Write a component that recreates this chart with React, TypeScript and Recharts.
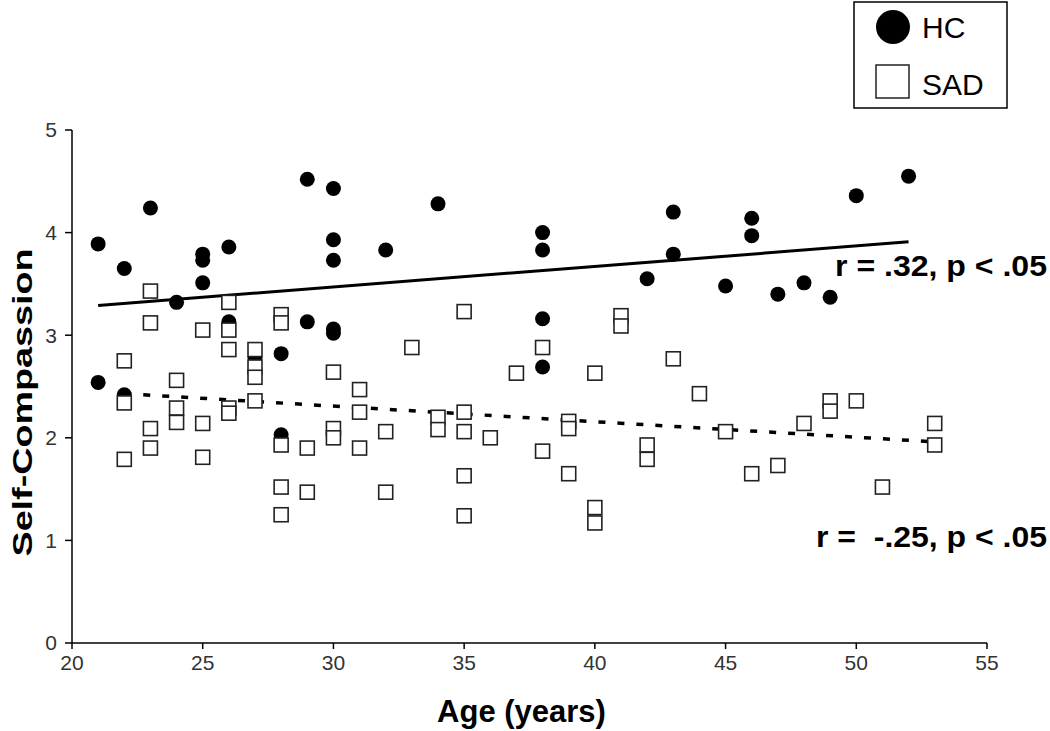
import React from 'react';
import { ScatterChart, Scatter, XAxis, YAxis, ReferenceLine, Legend, Label } from 'recharts';

// values
const hcAges = [21, 21, 22, 22, 23, 24, 25, 25, 25, 26, 26, 27, 28, 28, 29, 29, 30, 30, 30, 30, 30, 32, 34, 38, 38, 38, 38, 42, 43, 43, 45, 46, 46, 47, 48, 49, 50, 52];
const hcScores = [3.89, 2.54, 3.65, 2.42, 4.24, 3.32, 3.79, 3.73, 3.51, 3.86, 3.13, 2.78, 2.82, 2.03, 4.52, 3.13, 4.43, 3.93, 3.73, 3.06, 3.02, 3.83, 4.28, 4.0, 3.83, 3.16, 2.69, 3.55, 4.2, 3.79, 3.48, 4.14, 3.97, 3.4, 3.51, 3.37, 4.36, 4.55];

const sadAges = [22, 22, 22, 23, 23, 23, 23, 24, 24, 24, 25, 25, 25, 26, 26, 26, 26, 26, 27, 27, 27, 27, 28, 28, 28, 28, 28, 29, 29, 30, 30, 30, 31, 31, 31, 32, 32, 33, 34, 34, 35, 35, 35, 35, 35, 36, 37, 38, 38, 39, 39, 39, 40, 40, 40, 41, 41, 42, 42, 43, 44, 45, 46, 47, 48, 49, 49, 50, 51, 53, 53];
const sadScores = [2.75, 2.34, 1.79, 3.43, 3.12, 2.09, 1.9, 2.56, 2.29, 2.15, 3.05, 2.14, 1.81, 3.32, 3.05, 2.86, 2.29, 2.24, 2.86, 2.69, 2.59, 2.36, 3.2, 3.12, 1.93, 1.52, 1.25, 1.9, 1.47, 2.64, 2.09, 2.0, 2.47, 2.25, 1.9, 2.06, 1.47, 2.88, 2.2, 2.08, 3.23, 2.25, 2.06, 1.63, 1.24, 2.0, 2.63, 2.88, 1.87, 2.16, 2.09, 1.65, 2.63, 1.32, 1.17, 3.19, 3.09, 1.93, 1.79, 2.77, 2.43, 2.06, 1.65, 1.73, 2.14, 2.36, 2.26, 2.36, 1.52, 2.14, 1.93];

// fitted lines (end points)
const hcFitAges = [21, 52];
const hcFitScores = [3.29, 3.91];
const sadFitAges = [22, 53];
const sadFitScores = [2.43, 1.96];

const xTicks = [20, 25, 30, 35, 40, 45, 50, 55];
const yTicks = [0, 1, 2, 3, 4, 5];

const hcData = hcAges.map((age, i) => ({ age, score: hcScores[i] }));
const sadData = sadAges.map((age, i) => ({ age, score: sadScores[i] }));
const hcSegment = hcFitAges.map((x, i) => ({ x, y: hcFitScores[i] }));
const sadSegment = sadFitAges.map((x, i) => ({ x, y: sadFitScores[i] }));

const FONT = '"Liberation Sans", Arial, Helvetica, sans-serif';

const HcDot = (props: any) => <circle cx={props.cx} cy={props.cy} r={7.5} fill="#000" />;
const SadBox = (props: any) => (
  <rect x={props.cx - 7} y={props.cy - 7} width={14} height={14} fill="#fff" stroke="#222" strokeWidth={1.6} />
);

const LegendBox = () => (
  <svg width={156} height={109}>
    <rect x={1} y={1} width={153} height={106} fill="#fff" stroke="#000" strokeWidth={1.5} />
    <circle cx={40} cy={26} r={17} fill="#000" />
    <text x={69} y={37} fontSize={30} fontFamily={FONT} fill="#000">HC</text>
    <rect x={23} y={64} width={33} height={33} fill="#fff" stroke="#222" strokeWidth={1.5} />
    <text x={69} y={94} fontSize={30} fontFamily={FONT} fill="#000">SAD</text>
  </svg>
);

const App: React.FC = () => {
  return (
    <div style={{ position: 'absolute', left: 0, top: 0, width: 1050, height: 731, background: '#fff' }}>
      <ScatterChart width={1050} height={731} margin={{ top: 130, right: 63, bottom: 48, left: 12 }}>
        <XAxis
          type="number"
          dataKey="age"
          domain={[20, 55]}
          ticks={xTicks}
          height={40}
          tickSize={6}
          tickMargin={6}
          axisLine={{ stroke: '#000', strokeWidth: 1.5 }}
          tickLine={{ stroke: '#000', strokeWidth: 1.5 }}
          tick={{ fill: '#333', fontSize: 21, fontFamily: FONT }}
        >
          <Label
            value="Age (years)"
            position="bottom"
            offset={17}
            dx={-8}
            style={{ fontSize: 31, fontWeight: 'bold', fontFamily: FONT, fill: '#000' }}
          />
        </XAxis>
        <YAxis
          type="number"
          dataKey="score"
          domain={[0, 5]}
          ticks={yTicks}
          width={60}
          tickSize={7}
          tickMargin={8}
          axisLine={{ stroke: '#000', strokeWidth: 1.5 }}
          tickLine={{ stroke: '#000', strokeWidth: 1.5 }}
          tick={{ fill: '#333', fontSize: 21, fontFamily: FONT }}
        >
          <Label
            content={(p: any) => {
              const vb = p.viewBox;
              const cx = 22;
              const cy = vb.y + vb.height / 2 + 16;
              return (
                <text
                  x={cx}
                  y={cy}
                  transform={`rotate(-90 ${cx} ${cy})`}
                  textAnchor="middle"
                  dominantBaseline="central"
                  textLength={308}
                  lengthAdjust="spacingAndGlyphs"
                  style={{ fontSize: 28, fontWeight: 'bold', fontFamily: FONT, fill: '#000' }}
                >
                  Self-Compassion
                </text>
              );
            }}
          />
        </YAxis>
        <Legend
          layout="horizontal"
          align="center"
          verticalAlign="middle"
          width={156}
          wrapperStyle={{ left: 853, top: 1, width: 156 }}
          content={() => <LegendBox />}
        />
        <Scatter name="HC" data={hcData} shape={HcDot} isAnimationActive={false} />
        <ReferenceLine segment={hcSegment} stroke="#000" strokeWidth={3} />
        <Scatter name="SAD" data={sadData} shape={SadBox} isAnimationActive={false} />
        <ReferenceLine segment={sadSegment} stroke="#000" strokeWidth={3.5} strokeDasharray="7 12" />
      </ScatterChart>
      <svg width={1050} height={731} style={{ position: 'absolute', left: 0, top: 0, pointerEvents: 'none' }}>
        <text x={1047} y={276} textAnchor="end" fontSize={29} fontWeight="bold" fontFamily={FONT} textLength={212} lengthAdjust="spacingAndGlyphs" fill="#000">
          r = .32, p &lt; .05
        </text>
        <text x={1047} y={547} textAnchor="end" fontSize={29} fontWeight="bold" fontFamily={FONT} textLength={231} lengthAdjust="spacingAndGlyphs" fill="#000" style={{ whiteSpace: 'pre' }}>
          {'r =  -.25, p < .05'}
        </text>
      </svg>
    </div>
  );
};

export default App;
